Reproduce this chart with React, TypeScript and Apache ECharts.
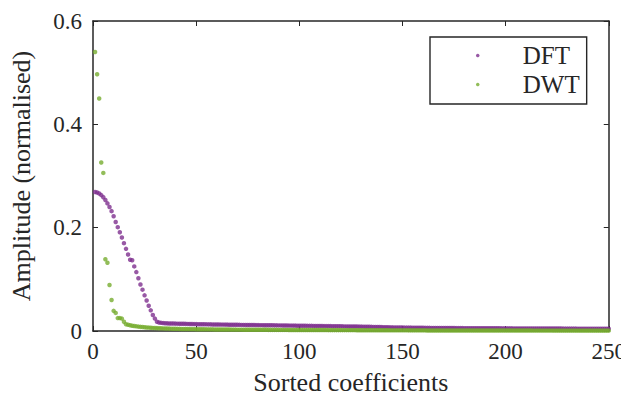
import React, { useEffect, useRef } from "react";
import * as echarts from "echarts";

const seriesNames = ["DFT", "DWT"];
const xTicks = [0, 50, 100, 150, 200, 250];
const yTicks = [0, 0.2, 0.4, 0.6];

const dftValues = [
  0.269, 0.268, 0.266, 0.263, 0.259, 0.2535, 0.247, 0.240, 0.232, 0.222,
  0.211, 0.201, 0.191, 0.181, 0.170, 0.159, 0.148, 0.138, 0.137, 0.125,
  0.114, 0.102, 0.090, 0.080, 0.069, 0.059, 0.049, 0.040, 0.031, 0.024,
  0.018, 0.0165, 0.0158, 0.0153, 0.015, 0.0148, 0.0146, 0.0145, 0.0144, 0.0143,
  0.0142, 0.0141, 0.014, 0.0139, 0.0138, 0.0137, 0.0136, 0.0135, 0.0134, 0.0133,
  0.0132, 0.0131, 0.013, 0.013, 0.0129, 0.0128, 0.0128, 0.0127, 0.0126, 0.0126,
  0.0125, 0.0124, 0.0124, 0.0123, 0.0123, 0.0122, 0.0121, 0.0121, 0.012, 0.012,
  0.0119, 0.0118, 0.0118, 0.0117, 0.0117, 0.0116, 0.0116, 0.0115, 0.0114, 0.0114,
  0.0113, 0.0113, 0.0112, 0.0112, 0.0111, 0.011, 0.011, 0.0109, 0.0109, 0.0108,
  0.0108, 0.0107, 0.0106, 0.0106, 0.0105, 0.0105, 0.0104, 0.0104, 0.0103, 0.0102,
  0.0102, 0.0101, 0.0101, 0.01, 0.01, 0.0099, 0.0098, 0.0098, 0.0097, 0.0097,
  0.0096, 0.0095, 0.0095, 0.0094, 0.0094, 0.0093, 0.0092, 0.0092, 0.0091, 0.0091,
  0.009, 0.0089, 0.0089, 0.0088, 0.0088, 0.0087, 0.0086, 0.0086, 0.0085, 0.0085,
  0.0084, 0.0083, 0.0082, 0.0081, 0.008, 0.0079, 0.0078, 0.0077, 0.0076, 0.0075,
  0.0074, 0.0073, 0.0072, 0.0071, 0.007, 0.0069, 0.0068, 0.0068, 0.0067, 0.0067,
  0.0066, 0.0066, 0.0065, 0.0065, 0.0064, 0.0064, 0.0063, 0.0063, 0.0062, 0.0062,
  0.0061, 0.0061, 0.0061, 0.006, 0.006, 0.006, 0.0059, 0.0059, 0.0059, 0.0058,
  0.0058, 0.0058, 0.0057, 0.0057, 0.0057, 0.0056, 0.0056, 0.0056, 0.0056, 0.0055,
  0.0055, 0.0055, 0.0055, 0.0054, 0.0054, 0.0054, 0.0054, 0.0053, 0.0053, 0.0053,
  0.0053, 0.0053, 0.0052, 0.0052, 0.0052, 0.0052, 0.0052, 0.0051, 0.0051, 0.0051,
  0.0051, 0.0051, 0.0051, 0.005, 0.005, 0.005, 0.005, 0.005, 0.005, 0.0049,
  0.0049, 0.0049, 0.0049, 0.0049, 0.0049, 0.0048, 0.0048, 0.0048, 0.0048, 0.0048,
  0.0048, 0.0047, 0.0047, 0.0047, 0.0047, 0.0047, 0.0047, 0.0046, 0.0046, 0.0046,
  0.0046, 0.0046, 0.0046, 0.0046, 0.0045, 0.0045, 0.0045, 0.0045, 0.0045, 0.0045,
  0.0044, 0.0044, 0.0044, 0.0044, 0.0044, 0.0044, 0.0043, 0.0043, 0.0043, 0.0043,
];

const dwtValues = [
  0.540, 0.497, 0.450, 0.326, 0.306, 0.139, 0.132, 0.089, 0.060, 0.039,
  0.035, 0.025, 0.025, 0.024, 0.018, 0.013, 0.012, 0.011, 0.0102, 0.0096,
  0.009, 0.0085, 0.008, 0.0076, 0.0072, 0.0069, 0.0066, 0.0063, 0.006, 0.0058,
  0.0056, 0.0054, 0.0052, 0.005, 0.0049, 0.0047, 0.0046, 0.0045, 0.0044, 0.0043,
  0.0042, 0.0041, 0.004, 0.0039, 0.0038, 0.0038, 0.0037, 0.0036, 0.0036, 0.0035,
  0.0034, 0.0034, 0.0033, 0.0033, 0.0032, 0.0032, 0.0031, 0.0031, 0.003, 0.003,
  0.003, 0.0029, 0.0029, 0.0028, 0.0028, 0.0028, 0.0027, 0.0027, 0.0027, 0.0026,
  0.0026, 0.0026, 0.0025, 0.0025, 0.0025, 0.0025, 0.0024, 0.0024, 0.0024, 0.0024,
  0.0023, 0.0023, 0.0023, 0.0023, 0.0022, 0.0022, 0.0022, 0.0022, 0.0022, 0.0021,
  0.0021, 0.0021, 0.0021, 0.0021, 0.002, 0.002, 0.002, 0.002, 0.002, 0.002,
  0.0019, 0.0019, 0.0019, 0.0019, 0.0019, 0.0019, 0.0018, 0.0018, 0.0018, 0.0018,
  0.0018, 0.0018, 0.0018, 0.0017, 0.0017, 0.0017, 0.0017, 0.0017, 0.0017, 0.0017,
  0.0016, 0.0016, 0.0016, 0.0016, 0.0016, 0.0016, 0.0016, 0.0015, 0.0015, 0.0015,
  0.0015, 0.0015, 0.0015, 0.0015, 0.0015, 0.0014, 0.0014, 0.0014, 0.0014, 0.0014,
  0.0014, 0.0014, 0.0014, 0.0013, 0.0013, 0.0013, 0.0013, 0.0013, 0.0013, 0.0013,
  0.0013, 0.0013, 0.0012, 0.0012, 0.0012, 0.0012, 0.0012, 0.0012, 0.0012, 0.0012,
  0.0012, 0.0011, 0.0011, 0.0011, 0.0011, 0.0011, 0.0011, 0.0011, 0.0011, 0.0011,
  0.0011, 0.001, 0.001, 0.001, 0.001, 0.001, 0.001, 0.001, 0.001, 0.001,
  0.001, 0.001, 0.001, 0.00095, 0.00095, 0.00095, 0.00095, 0.00095, 0.00095, 0.00095,
  0.0009, 0.0009, 0.0009, 0.0009, 0.0009, 0.0009, 0.0009, 0.0009, 0.0009, 0.0009,
  0.00085, 0.00085, 0.00085, 0.00085, 0.00085, 0.00085, 0.00085, 0.00085, 0.00085, 0.00085,
  0.00085, 0.00085, 0.0008, 0.0008, 0.0008, 0.0008, 0.0008, 0.0008, 0.0008, 0.0008,
  0.0008, 0.0008, 0.00075, 0.00075, 0.00075, 0.00075, 0.00075, 0.00075, 0.00075, 0.00075,
  0.00075, 0.00075, 0.00075, 0.00075, 0.0007, 0.0007, 0.0007, 0.0007, 0.0007, 0.0007,
  0.0007, 0.0007, 0.0007, 0.0007, 0.0007, 0.0007, 0.0007, 0.0007, 0.0007, 0.0007,
];

const COLORS = ["#7E2F8E", "#77AC30"];
const INK = "#262626";
const FONT = "'Liberation Serif', 'Times New Roman', 'DejaVu Serif', serif";

export default function App() {
  const ref = useRef<HTMLDivElement>(null);

  useEffect(() => {
    if (!ref.current) return;
    const chart = echarts.init(ref.current, undefined, { renderer: "svg" });
    const toPairs = (vals: number[]) => vals.map((v, i) => [i + 1, v]);
    const axisCommon = {
      axisLine: { show: true, onZero: false, lineStyle: { color: INK, width: 1.5 } },
      axisTick: { show: true, inside: true, length: 5, lineStyle: { color: INK, width: 1 } },
      splitLine: { show: false },
    };
    chart.setOption({
      animation: false,
      backgroundColor: "#ffffff",
      textStyle: { fontFamily: FONT },
      grid: { left: 91, right: 17, top: 21, bottom: 69, containLabel: false },
      xAxis: [
        {
          type: "value",
          min: xTicks[0],
          max: xTicks[xTicks.length - 1],
          interval: 50,
          position: "bottom",
          name: "Sorted coefficients",
          nameLocation: "middle",
          nameGap: 38,
          nameTextStyle: { fontFamily: FONT, fontSize: 26, color: INK },
          axisLabel: { fontFamily: FONT, fontSize: 23, color: INK, margin: 9 },
          ...axisCommon,
        },
        {
          type: "value",
          min: xTicks[0],
          max: xTicks[xTicks.length - 1],
          interval: 50,
          position: "top",
          axisLabel: { show: false },
          ...axisCommon,
        },
      ],
      yAxis: [
        {
          type: "value",
          min: yTicks[0],
          max: yTicks[yTicks.length - 1],
          interval: 0.2,
          position: "left",
          name: "Amplitude (normalised)",
          nameLocation: "middle",
          nameGap: 59,
          nameTextStyle: { fontFamily: FONT, fontSize: 26, color: INK },
          axisLabel: {
            fontFamily: FONT,
            fontSize: 23,
            color: INK,
            margin: 11,
            formatter: (v: number) => (v === 0 ? "0" : v.toFixed(1)),
          },
          ...axisCommon,
        },
        {
          type: "value",
          min: yTicks[0],
          max: yTicks[yTicks.length - 1],
          interval: 0.2,
          position: "right",
          axisLabel: { show: false },
          ...axisCommon,
        },
      ],
      legend: {
        orient: "vertical",
        left: 430,
        top: 37,
        padding: [6, 7, 7, 46],
        itemWidth: 80,
        itemHeight: 3.5,
        itemGap: 4,
        backgroundColor: "#ffffff",
        borderColor: INK,
        borderWidth: 1.4,
        textStyle: { fontFamily: FONT, fontSize: 25, color: INK, lineHeight: 25 },
        data: seriesNames.map((n) => ({ name: n, icon: "circle" })),
      },
      series: [
        {
          name: seriesNames[0],
          type: "scatter",
          data: toPairs(dftValues),
          symbol: "circle",
          symbolSize: 4.5,
          itemStyle: { color: COLORS[0] },
          xAxisIndex: 0,
          yAxisIndex: 0,
        },
        {
          name: seriesNames[1],
          type: "scatter",
          data: toPairs(dwtValues),
          symbol: "circle",
          symbolSize: 4.5,
          itemStyle: { color: COLORS[1] },
          xAxisIndex: 0,
          yAxisIndex: 0,
        },
      ],
    });
    return () => chart.dispose();
  }, []);

  return <div ref={ref} style={{ width: 629, height: 400, margin: -8 }} />;
}
